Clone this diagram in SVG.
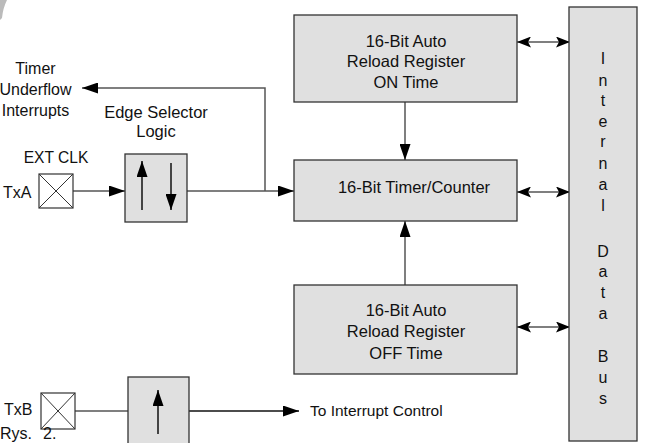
<svg xmlns="http://www.w3.org/2000/svg" width="645" height="443" viewBox="0 0 645 443">
<style>
text{font-family:"Liberation Sans",Arial,sans-serif;fill:#111;}
.box{fill:#e0e0e0;stroke:#333;stroke-width:1.3;}
.pin{fill:#fff;stroke:#333;stroke-width:1.2;}
.x{stroke:#333;stroke-width:1;}
.ln{fill:none;stroke:#555;stroke-width:1.5;}
.blk{fill:none;stroke:#111;stroke-width:1.5;}
.t16{font-size:16.5px;text-anchor:middle;}
.bus{font-size:16px;text-anchor:middle;}
</style>
<defs>
<marker id="ah" markerUnits="userSpaceOnUse" markerWidth="16" markerHeight="11" refX="16" refY="5.5" orient="auto-start-reverse" viewBox="0 0 16 11">
<path d="M0,0 L16,5.5 L0,11 Z" fill="#000"/>
</marker>
<marker id="ah2" markerUnits="userSpaceOnUse" markerWidth="14" markerHeight="11" refX="14" refY="5.5" orient="auto-start-reverse" viewBox="0 0 14 11">
<path d="M0,0 L14,5.5 L0,11 L3,5.5 Z" fill="#000"/>
</marker>
</defs>
<path d="M0,0 L7,0 Q3,8 2,18 L0,20 Z" fill="#bbb"/>

<g id="connectors">
<path class="ln" d="M73,191 H125" marker-end="url(#ah)"/>
<path class="ln" d="M187,191 H294" marker-end="url(#ah)"/>
<path class="ln" d="M265,191 V88 H82" marker-end="url(#ah)"/>
<path class="ln" d="M405,102 V160" marker-end="url(#ah)"/>
<path class="ln" d="M405,285 V221" marker-end="url(#ah)"/>
<path class="ln" d="M517,42 H570" marker-start="url(#ah2)" marker-end="url(#ah2)"/>
<path class="ln" d="M517,192 H570" marker-start="url(#ah2)" marker-end="url(#ah2)"/>
<path class="ln" d="M517,327 H570" marker-start="url(#ah2)" marker-end="url(#ah2)"/>
<path class="ln" d="M75,411 H128"/>
<path class="blk" d="M189,411 H299" marker-end="url(#ah)"/>
</g>

<g id="on-reg">
<rect class="box" x="294" y="15" width="223" height="87"/>
<text class="t16" x="406" y="47">16-Bit Auto</text>
<text class="t16" x="406" y="67">Reload Register</text>
<text class="t16" x="406" y="88">ON Time</text>
</g>

<g id="timer">
<rect class="box" x="294" y="160" width="223" height="61"/>
<text class="t16" x="414" y="193">16-Bit Timer/Counter</text>
</g>

<g id="off-reg">
<rect class="box" x="294" y="285" width="223" height="89"/>
<text class="t16" x="406" y="316">16-Bit Auto</text>
<text class="t16" x="406" y="337">Reload Register</text>
<text class="t16" x="406" y="359">OFF Time</text>
</g>

<g id="bus">
<rect class="box" x="569" y="7" width="68" height="434"/>
<text class="bus" x="603" y="64">I</text>
<text class="bus" x="603" y="86">n</text>
<text class="bus" x="603" y="106">t</text>
<text class="bus" x="603" y="127">e</text>
<text class="bus" x="603" y="147">r</text>
<text class="bus" x="603" y="169">n</text>
<text class="bus" x="603" y="190">a</text>
<text class="bus" x="603" y="211">l</text>
<text class="bus" x="603" y="257">D</text>
<text class="bus" x="603" y="277">a</text>
<text class="bus" x="603" y="298">t</text>
<text class="bus" x="603" y="319">a</text>
<text class="bus" x="603" y="362">B</text>
<text class="bus" x="603" y="383">u</text>
<text class="bus" x="603" y="404">s</text>
</g>

<g id="edge-selector">
<rect class="box" x="125" y="154" width="62" height="68"/>
<path class="blk" d="M142,210 V161" marker-end="url(#ah)"/>
<path class="blk" d="M171,163 V210" marker-end="url(#ah)"/>
<text class="t16" x="156" y="118">Edge Selector</text>
<text class="t16" x="156" y="137">Logic</text>
</g>

<g id="edge-b">
<rect class="box" x="128" y="377" width="61" height="70"/>
<path class="blk" d="M158,434 V390" marker-end="url(#ah)"/>
</g>

<g id="txa">
<rect class="pin" x="39" y="174" width="34" height="34"/>
<path class="x" d="M39,174 L73,208 M73,174 L39,208"/>
<text x="3" y="198" style="font-size:16px">TxA</text>
<text x="56" y="163" style="font-size:15.6px;text-anchor:middle">EXT CLK</text>
</g>

<g id="txb">
<rect class="pin" x="41" y="393" width="34" height="36"/>
<path class="x" d="M41,393 L75,429 M75,393 L41,429"/>
<text x="4" y="415" style="font-size:16px">TxB</text>
</g>

<g id="underflow">
<text x="35.5" y="74" style="font-size:16px;text-anchor:middle">Timer</text>
<text x="35.5" y="95" style="font-size:16px;text-anchor:middle">Underflow</text>
<text x="35.5" y="116" style="font-size:16px;text-anchor:middle">Interrupts</text>
</g>

<g id="interrupt-control">
<text x="310" y="416" style="font-size:15.5px">To Interrupt Control</text>
</g>

<text x="0" y="439" style="font-size:16px">Rys.<tspan x="43">2.</tspan></text>
</svg>
